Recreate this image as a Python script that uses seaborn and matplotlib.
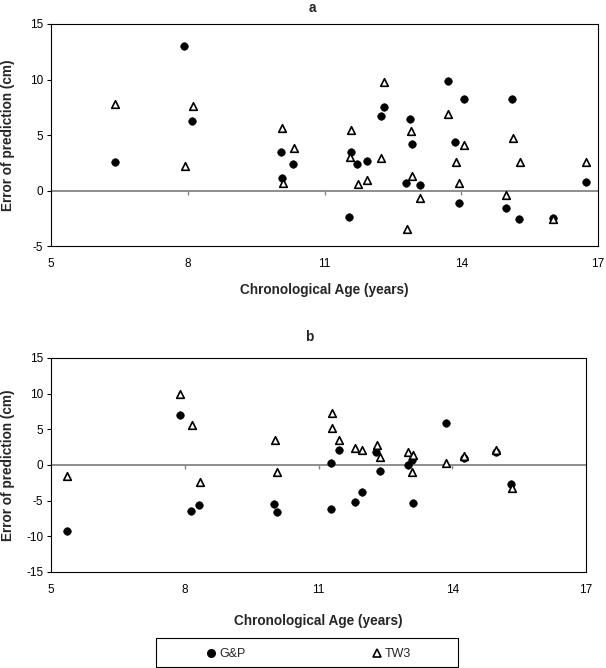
import numpy as np
import pandas as pd
import matplotlib
matplotlib.use("Agg")
import matplotlib.pyplot as plt
import matplotlib.patches as mpatches
from matplotlib.lines import Line2D
import seaborn as sns

sns.set_theme(style="white")
plt.rcParams["font.family"] = ["Liberation Sans", "DejaVu Sans"]

# ---------------- data ----------------
methods = ["G&P", "TW3"]
x_ticks = [5, 8, 11, 14, 17]
a_y_ticks = [-5, 0, 5, 10, 15]
b_y_ticks = [-15, -10, -5, 0, 5, 10, 15]

# panel a
a_gp_age = [6.40, 7.91, 8.10, 10.05, 10.07, 10.31, 11.53, 11.59, 11.72, 11.93, 12.24, 12.30,
            12.79, 12.88, 12.91, 13.10, 13.71, 13.87, 13.94, 14.05, 14.98, 15.11, 15.27, 16.02, 16.73]
a_gp_err = [2.6, 13.05, 6.3, 3.45, 1.15, 2.35, -2.4, 3.45, 2.35, 2.65, 6.7, 7.5,
            0.7, 6.4, 4.2, 0.5, 9.9, 4.4, -1.15, 8.25, -1.6, 8.25, -2.55, -2.5, 0.8]
a_tw_age = [6.41, 7.94, 8.12, 10.06, 10.08, 10.33, 11.55, 11.59, 11.73, 11.94, 12.25, 12.31,
            12.82, 12.89, 12.92, 13.10, 13.71, 13.88, 13.95, 14.07, 14.99, 15.13, 15.29, 16.02, 16.74]
a_tw_err = [7.8, 2.2, 7.6, 5.65, 0.7, 3.8, 3.05, 5.45, 0.6, 0.95, 2.95, 9.8,
            -3.45, 5.35, 1.3, -0.7, 6.85, 2.6, 0.65, 4.1, -0.4, 4.7, 2.6, -2.6, 2.6]

# panel b
b_gp_age = [5.35, 7.89, 8.15, 8.32, 10.01, 10.07, 11.29, 11.29, 11.45, 11.81, 11.97, 12.30,
            12.37, 13.00, 13.10, 13.11, 13.85, 14.26, 14.98, 15.32]
b_gp_err = [-9.3, 7.05, -6.4, -5.55, -5.4, -6.6, -6.2, 0.25, 2.1, -5.2, -3.8, 1.8,
            -0.8, 0.05, 0.75, -5.35, 5.85, 1.0, 1.8, -2.65]
b_tw_age = [5.37, 7.90, 8.17, 8.34, 10.03, 10.08, 11.30, 11.30, 11.47, 11.82, 11.98, 12.31,
            12.39, 13.01, 13.12, 13.10, 13.86, 14.26, 14.98, 15.34]
b_tw_err = [-1.6, 9.95, 5.55, -2.4, 3.5, -1.05, 7.25, 5.15, 3.5, 2.45, 2.15, 2.75,
            1.1, 1.85, 1.4, -1.05, 0.3, 1.25, 2.1, -3.2]

panel_titles = ["a", "b"]
x_label = "Chronological Age (years)"
y_label = "Error of prediction (cm)"


def long_df(gp_age, gp_err, tw_age, tw_err):
    return pd.DataFrame({
        "age": list(gp_age) + list(tw_age),
        "err": list(gp_err) + list(tw_err),
        "method": [methods[0]] * len(gp_age) + [methods[1]] * len(tw_age),
    })


df_a = long_df(a_gp_age, a_gp_err, a_tw_age, a_tw_err)
df_b = long_df(b_gp_age, b_gp_err, b_tw_age, b_tw_err)

W, H = 606, 668
fig = plt.figure(figsize=(W / 100, H / 100), dpi=100)
fig.patch.set_facecolor("white")


def px_axes(left, top, right, bottom):
    return fig.add_axes([left / W, 1 - bottom / H, (right - left) / W, (bottom - top) / H])


ax_a = px_axes(51, 24, 598, 246)
ax_b = px_axes(51, 358, 586, 572)

specs = [
    (ax_a, df_a, a_y_ticks, 8, 312, 290),
    (ax_b, df_b, b_y_ticks, 337, 309, 621),
]

LABEL_FS = 9.8

for i, (ax, df, yt, title_y, title_x, xlab_y) in enumerate(specs):
    ax.axhline(0, color="#858585", lw=1.3, zorder=1)
    sns.scatterplot(data=df[df["method"] == methods[0]], x="age", y="err", ax=ax,
                    marker="o", color="black", edgecolor="black", s=30, linewidth=0.4,
                    zorder=3, legend=False)
    sns.scatterplot(data=df[df["method"] == methods[1]], x="age", y="err", ax=ax,
                    marker="^", facecolor="white", edgecolor="black", s=30, linewidth=1.2,
                    zorder=4, legend=False)
    # small ticks on the zero line (category axis crosses at 0)
    ax.plot(x_ticks[1:-1], [0] * len(x_ticks[1:-1]), linestyle="none", marker=3,
            markersize=3, color="#858585", mew=1.0, zorder=1)
    ax.set_xlim(x_ticks[0], x_ticks[-1])
    ax.set_ylim(yt[0], yt[-1])
    ax.set_xticks(x_ticks)
    ax.set_yticks(yt)
    ax.set_xticklabels([str(v) for v in x_ticks])
    ax.set_yticklabels([str(v) for v in yt])
    ax.set_xlabel("")
    ax.set_ylabel("")
    ax.tick_params(axis="x", length=0, pad=8.5, labelsize=8.5, colors="black")
    ax.tick_params(axis="y", length=3, width=0.8, pad=2.5, labelsize=8.5, colors="black",
                   left=True, direction="out")
    for sp in ax.spines.values():
        sp.set_visible(True)
        sp.set_color("black")
        sp.set_linewidth(0.8)
    ax.grid(False)
    ax.set_facecolor("white")

    box = ax.get_position()
    cx = box.x0 + box.width / 2
    fig.text(title_x / W, 1 - title_y / H, panel_titles[i],
             ha="center", va="center", fontsize=LABEL_FS, fontweight="bold")
    fig.text(cx, 1 - xlab_y / H, x_label, ha="center", va="center",
             fontsize=LABEL_FS, fontweight="bold")
    fig.text(8 / W, box.y0 + box.height / 2, y_label, rotation=90, ha="center",
             va="center", fontsize=LABEL_FS, fontweight="bold")

# legend
handles = [
    Line2D([], [], linestyle="none", marker="o", markersize=5.5, markerfacecolor="black",
           markeredgecolor="black"),
    Line2D([], [], linestyle="none", marker="^", markersize=5.5, markerfacecolor="white",
           markeredgecolor="black", markeredgewidth=1.2),
]
fig.legend(handles, methods, loc="center", bbox_to_anchor=(309 / W, 1 - 654 / H),
           ncol=2, frameon=False, fontsize=9, handlelength=0.6, handletextpad=0.35,
           columnspacing=10.2, borderpad=0.2)
fig.patches.append(mpatches.Rectangle((156 / W, 1 - 667 / H), 302 / W, 29 / H,
                                      transform=fig.transFigure, fill=False,
                                      edgecolor="black", lw=0.8))

fig.savefig("out.png", dpi=100, facecolor="white")
